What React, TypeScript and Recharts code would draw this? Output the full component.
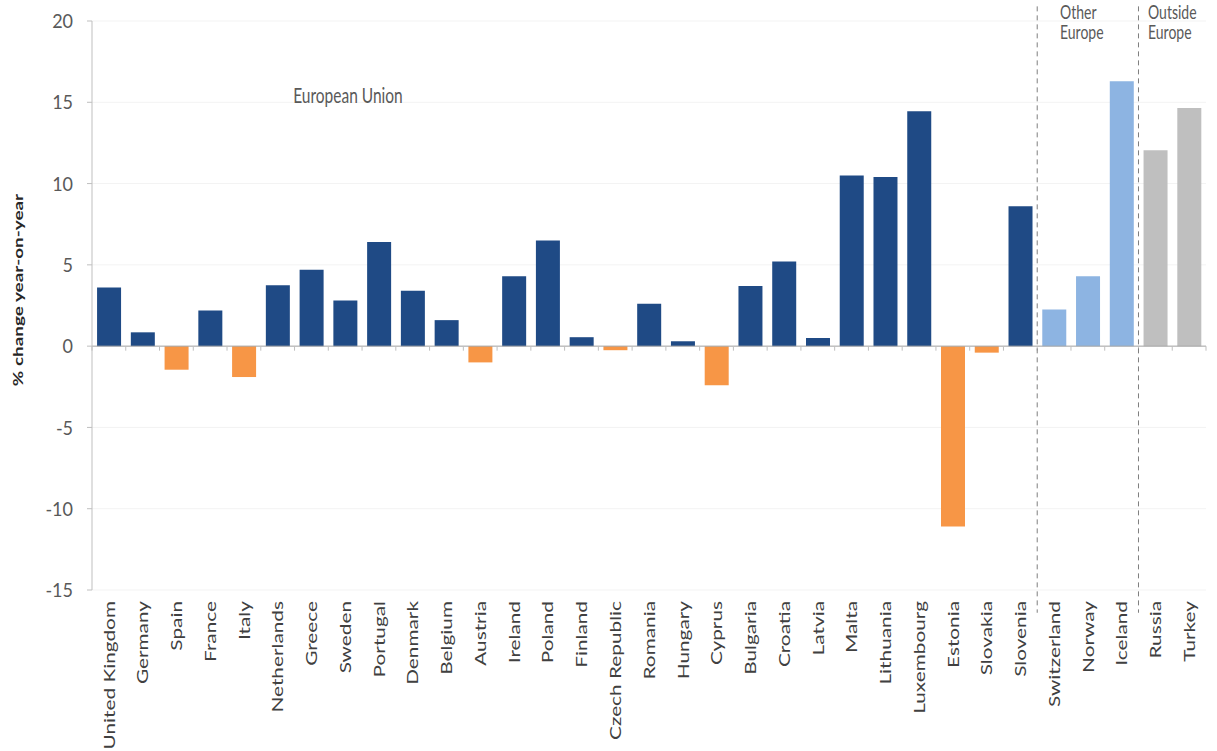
import React from 'react'
import { BarChart, Bar, XAxis, YAxis, CartesianGrid, ReferenceLine, Cell } from 'recharts'

const countries = [
  'United Kingdom', 'Germany', 'Spain', 'France', 'Italy', 'Netherlands', 'Greece',
  'Sweden', 'Portugal', 'Denmark', 'Belgium', 'Austria', 'Ireland', 'Poland',
  'Finland', 'Czech Republic', 'Romania', 'Hungary', 'Cyprus', 'Bulgaria', 'Croatia',
  'Latvia', 'Malta', 'Lithuania', 'Luxembourg', 'Estonia', 'Slovakia', 'Slovenia',
  'Switzerland', 'Norway', 'Iceland', 'Russia', 'Turkey',
]

const changes = [
  3.6, 0.85, -1.45, 2.2, -1.9, 3.75, 4.7,
  2.8, 6.4, 3.4, 1.6, -1.0, 4.3, 6.5,
  0.55, -0.25, 2.6, 0.3, -2.4, 3.7, 5.2,
  0.5, 10.5, 10.4, 14.45, -11.1, -0.4, 8.6,
  2.25, 4.3, 16.3, 12.05, 14.65,
]

const regions = [
  ...Array(28).fill('eu'),
  'other', 'other', 'other',
  'outside', 'outside',
]

// first country of each group after the EU block, dashed divider drawn at its left edge
const dividers = ['Switzerland', 'Russia']

const yTicks = [-15, -10, -5, 0, 5, 10, 15, 20]

const chartData = countries.map((country, i) => ({
  country,
  change: changes[i],
  region: regions[i],
}))

const FONT = 'Lato, "Open Sans", sans-serif'
const STRETCH = 1.35

function barColour(region: string, value: number) {
  if (region === 'other') return '#8db4e2'
  if (region === 'outside') return '#bfbfbf'
  return value < 0 ? '#f79646' : '#1f4a85'
}

function CountryTick({ x, y, payload }: any) {
  return (
    <text
      transform={`translate(${x} ${y}) rotate(-90) scale(1.3 1)`}
      textAnchor="end"
      dy="0.36em"
      fontSize={16}
      fontFamily={FONT}
      fill="#404040"
    >
      {payload.value}
    </text>
  )
}

function ValueTick({ x, y, payload }: any) {
  return (
    <text
      transform={`translate(${x} ${y}) scale(1 1.1)`}
      textAnchor="end"
      dy="0.36em"
      fontSize={18}
      fontFamily={FONT}
      fill="#595959"
    >
      {payload.value}
    </text>
  )
}

function Note({ x, y, lines, anchor = 'start', size = 14 }: { x: number; y: number; lines: string[]; anchor?: string; size?: number }) {
  return (
    <g transform={`translate(${x} ${y}) scale(1 ${STRETCH})`}>
      {lines.map((line, i) => (
        <text key={line} x={0} y={i * 15} textAnchor={anchor} fontSize={size} fontFamily={FONT} fill="#595959">
          {line}
        </text>
      ))}
    </g>
  )
}

export default function App() {
  return (
    <div style={{ position: 'absolute', left: 0, top: 0, width: 1217, height: 751, background: '#fff' }}>
      <BarChart
        width={1217}
        height={751}
        data={chartData}
        margin={{ top: 21, right: 11, left: 32, bottom: 11 }}
        barCategoryGap="15%"
      >
        <CartesianGrid vertical={false} stroke="#f3f3f3" />
        <XAxis
          dataKey="country"
          interval={0}
          height={150}
          axisLine={false}
          tickLine={false}
          tickSize={0}
          tickMargin={11}
          tick={<CountryTick />}
        />
        <YAxis
          width={60}
          domain={[-15, 20]}
          ticks={yTicks}
          allowDataOverflow
          axisLine={{ stroke: '#bfbfbf' }}
          tickLine={{ stroke: '#bfbfbf' }}
          tickSize={5}
          tickMargin={14}
          tick={<ValueTick />}
        />
        <Bar dataKey="change" isAnimationActive={false}>
          {chartData.map((d) => (
            <Cell key={d.country} fill={barColour(d.region, d.change)} />
          ))}
        </Bar>
        <ReferenceLine y={0} stroke="#a6a6a6" />
        {countries.map((c) => (
          <ReferenceLine
            key={`tick-${c}`}
            segment={[{ x: c, y: 0 }, { x: c, y: -0.28 }]}
            position="start"
            ifOverflow="visible"
            stroke="#bfbfbf"
          />
        ))}
        <ReferenceLine
          segment={[{ x: countries[countries.length - 1], y: 0 }, { x: countries[countries.length - 1], y: -0.28 }]}
          position="end"
          ifOverflow="visible"
          stroke="#bfbfbf"
        />
        {dividers.map((c) => (
          <ReferenceLine
            key={`div-${c}`}
            segment={[{ x: c, y: 20.9 }, { x: c, y: -16.4 }]}
            position="start"
            ifOverflow="visible"
            stroke="#7f7f7f"
            strokeDasharray="5 4"
          />
        ))}
      </BarChart>
      <svg width={1217} height={751} style={{ position: 'absolute', left: 0, top: 0, pointerEvents: 'none' }}>
        <text
          transform={`translate(18 290) rotate(-90) scale(${STRETCH} 1)`}
          textAnchor="middle"
          dy="0.36em"
          fontSize={14}
          fontWeight={700}
          fontFamily={FONT}
          fill="#262626"
        >
          % change year-on-year
        </text>
        <Note x={348} y={103} lines={['European Union']} anchor="middle" size={15.5} />
        <Note x={1060} y={19} lines={['Other', 'Europe']} />
        <Note x={1148} y={19} lines={['Outside', 'Europe']} />
      </svg>
    </div>
  )
}
